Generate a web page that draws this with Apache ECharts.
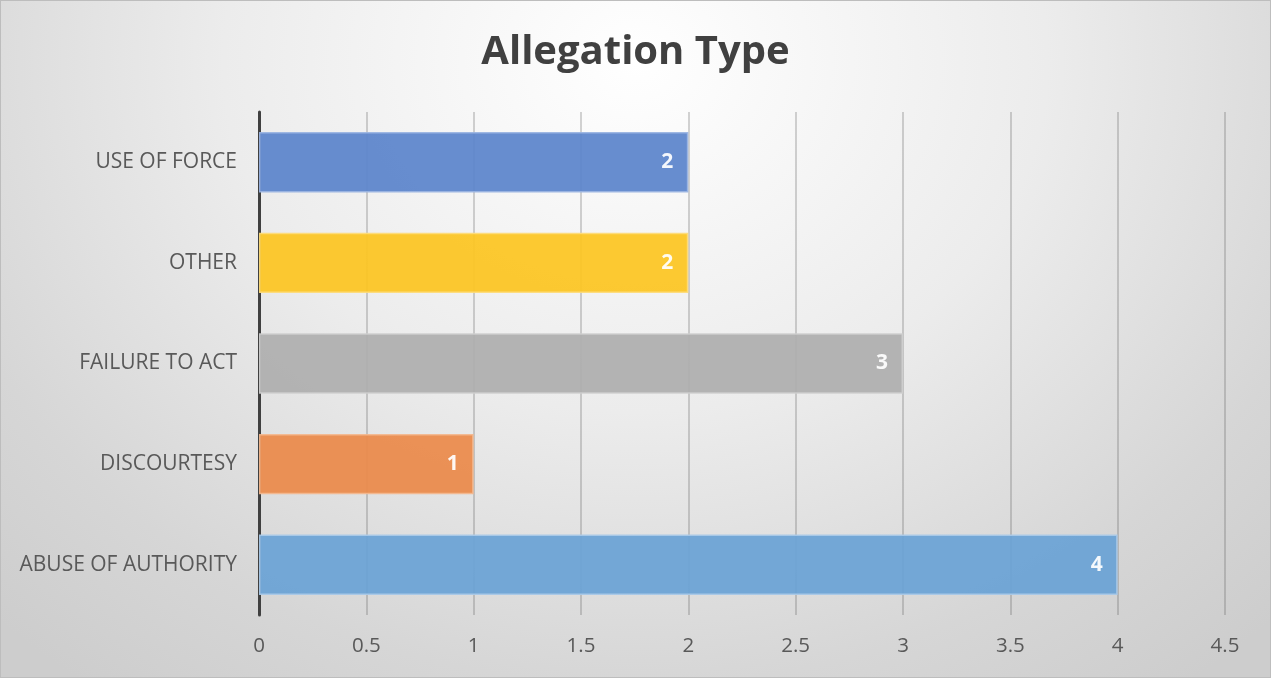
<!DOCTYPE html>
<html>
<head>
<meta charset="utf-8">
<script src="https://cdn.jsdelivr.net/npm/echarts@6/dist/echarts.min.js"></script>
<style>
html,body{margin:0;padding:0;width:1271px;height:678px;overflow:hidden;}
body{background:radial-gradient(ellipse 72% 115% at 50% 9%, #ffffff 0%, #ececec 45%, #d6d6d6 80%, #cdcdcd 100%);}
#chart{width:1269px;height:676px;border:1px solid #bdbdbd;}
</style>
</head>
<body>
<div id="chart"></div>
<script>
const categories = ['ABUSE OF AUTHORITY', 'DISCOURTESY', 'FAILURE TO ACT', 'OTHER', 'USE OF FORCE'];
const values = [4, 1, 3, 2, 2];
const barColors = ['#6aa3d5', '#eb8a4a', '#aeaeae', '#fcc521', '#5b84cb'];
const borderColors = ['#a9c9e8', '#f3b88f', '#cfcfcf', '#fddc7a', '#9bb5e2'];
const xTicks = { min: 0, max: 4.5, interval: 0.5 };

const chart = echarts.init(document.getElementById('chart'), null, { renderer: 'canvas' });
chart.setOption({
  backgroundColor: 'transparent',
  animation: false,
  title: {
    text: 'Allegation Type',
    left: 'center',
    top: 27,
    textStyle: { fontFamily: 'Open Sans', fontWeight: 'bold', fontSize: 40, color: '#404040' }
  },
  grid: { left: 258, right: 45, top: 111, bottom: 62, containLabel: false },
  xAxis: {
    type: 'value',
    min: xTicks.min, max: xTicks.max, interval: xTicks.interval,
    axisLine: { show: false },
    axisTick: { show: false },
    axisLabel: { color: '#595959', fontSize: 20.5, fontFamily: 'Open Sans', margin: 21 },
    splitLine: { show: true, lineStyle: { color: 'rgba(90,90,90,0.35)', width: 1.5 } }
  },
  yAxis: {
    type: 'category',
    data: categories,
    axisLine: { show: true, lineStyle: { color: '#404040', width: 3 } },
    axisTick: { show: false },
    axisLabel: { color: '#595959', fontSize: 21, fontFamily: 'Open Sans', margin: 22 }
  },
  series: [{
    type: 'bar',
    barWidth: '60%',
    data: values.map((v, i) => ({
      value: v,
      itemStyle: { color: barColors[i], opacity: 0.93, borderColor: borderColors[i], borderWidth: 1.5 }
    })),
    label: {
      show: true,
      position: 'insideRight',
      distance: 15,
      color: '#ffffff',
      fontWeight: 'bold',
      fontSize: 21,
      fontFamily: 'Open Sans'
    }
  }]
});
</script>
</body>
</html>
